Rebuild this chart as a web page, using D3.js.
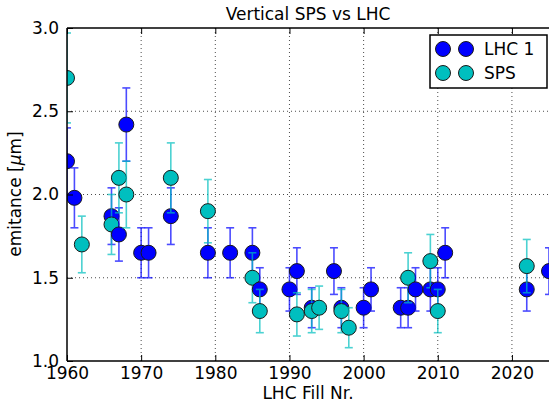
<!DOCTYPE html>
<html><head><meta charset="utf-8">
<script src="https://cdn.jsdelivr.net/npm/d3@7"></script>
<style>body{margin:0;background:#fff}svg{display:block}text{font-family:"DejaVu Sans",sans-serif;fill:#000}</style>
</head><body>
<svg id="c" width="549" height="403"></svg>
<script>
const lhcYear = [1960,1961,1966,1967,1968,1970,1971,1974,1979,1982,1985,1986,1990,1991,1993,1996,1997,2000,2001,2005,2006,2007,2009,2010,2011,2022,2025];
const lhcVal  = [2.20,1.98,1.87,1.76,2.42,1.65,1.65,1.87,1.65,1.65,1.65,1.43,1.43,1.54,1.32,1.54,1.32,1.32,1.43,1.32,1.32,1.43,1.43,1.43,1.65,1.43,1.54];
const lhcErr  = [0.20,0.18,0.17,0.16,0.22,0.15,0.15,0.17,0.15,0.15,0.15,0.13,0.13,0.14,0.12,0.14,0.12,0.12,0.13,0.12,0.12,0.13,0.13,0.13,0.15,0.13,0.14];
const spsYear = [1960,1962,1966,1967,1968,1974,1979,1985,1986,1991,1993,1994,1997,1998,2006,2009,2010,2022];
const spsVal  = [2.70,1.70,1.82,2.10,2.00,2.10,1.90,1.50,1.30,1.28,1.30,1.32,1.30,1.20,1.50,1.60,1.30,1.57];
const spsErr  = [0.27,0.17,0.18,0.21,0.20,0.21,0.19,0.15,0.13,0.13,0.13,0.13,0.13,0.12,0.15,0.16,0.13,0.16];
const xTicks = [1960,1970,1980,1990,2000,2010,2020];
const yTicks = [1.0,1.5,2.0,2.5,3.0];
const seriesNames = ["LHC 1","SPS"];
const seriesColors = ["#0000ff","#00bfbf"];

const L=67,R=549,T=28,B=361;
const svg=d3.select("#c");
const x=d3.scaleLinear().domain([1960,2025]).range([L,R]);
const y=d3.scaleLinear().domain([1.0,3.0]).range([B,T]);
const FS=17;

svg.append("defs").append("clipPath").attr("id","clip").append("rect")
  .attr("x",L).attr("y",T).attr("width",R-L).attr("height",B-T);

// grid
const g=svg.append("g");
g.selectAll(".gx").data(xTicks.slice(1)).join("line")
  .attr("x1",d=>x(d)).attr("x2",d=>x(d)).attr("y1",T).attr("y2",B)
  .attr("stroke","#000").attr("stroke-width",1).attr("stroke-dasharray","1,3").attr("opacity",0.7);
g.selectAll(".gy").data(yTicks.slice(1,-1)).join("line")
  .attr("y1",d=>y(d)).attr("y2",d=>y(d)).attr("x1",L).attr("x2",R)
  .attr("stroke","#000").attr("stroke-width",1).attr("stroke-dasharray","1,3").attr("opacity",0.7);

// points interleaved by year: LHC then SPS
const pts=[];
lhcYear.forEach((yr,i)=>pts.push({s:0,yr,v:lhcVal[i],e:lhcErr[i],o:yr*10}));
spsYear.forEach((yr,i)=>pts.push({s:1,yr,v:spsVal[i],e:spsErr[i],o:yr*10+1}));
pts.sort((a,b)=>a.o-b.o);

const pg=svg.append("g").attr("clip-path","url(#clip)");
pts.forEach(p=>{
  const c=seriesColors[p.s];
  const eg=pg.append("g").attr("stroke",c).attr("stroke-width",1.6).attr("opacity",0.7);
  const cx=x(p.yr);
  eg.append("line").attr("x1",cx).attr("x2",cx).attr("y1",y(p.v-p.e)).attr("y2",y(p.v+p.e));
  [p.v-p.e,p.v+p.e].forEach(v=>eg.append("line").attr("x1",cx-4).attr("x2",cx+4).attr("y1",y(v)).attr("y2",y(v)));
  pg.append("circle").attr("cx",cx).attr("cy",y(p.v)).attr("r",7.5)
    .attr("fill",c).attr("stroke","#1a1a1a").attr("stroke-width",1);
});

// axes
const xAxisB=d3.axisBottom(x).tickValues(xTicks).tickFormat(d3.format("d")).tickSizeInner(-6).tickSizeOuter(0).tickPadding(6);
const ax=svg.append("g").attr("transform",`translate(0,${B})`).call(xAxisB);
ax.select(".domain").remove();
ax.selectAll("line").attr("stroke","#000");
ax.selectAll("text").attr("font-size",FS).attr("font-family","DejaVu Sans");
const xAxisT=d3.axisTop(x).tickValues(xTicks).tickFormat("").tickSizeInner(-6).tickSizeOuter(0);
const axt=svg.append("g").attr("transform",`translate(0,${T})`).call(xAxisT);
axt.select(".domain").remove();
const yAxisL=d3.axisLeft(y).tickValues(yTicks).tickFormat(d3.format(".1f")).tickSizeInner(-6).tickSizeOuter(0).tickPadding(8);
const ay=svg.append("g").attr("transform",`translate(${L},0)`).call(yAxisL);
ay.select(".domain").remove();
ay.selectAll("text").attr("font-size",FS).attr("font-family","DejaVu Sans");

// spines
svg.append("line").attr("x1",L).attr("x2",L).attr("y1",T).attr("y2",B).attr("stroke","#000").attr("stroke-width",1.5);
svg.append("line").attr("x1",L).attr("x2",R).attr("y1",B).attr("y2",B).attr("stroke","#000").attr("stroke-width",1.5);
svg.append("line").attr("x1",L).attr("x2",R).attr("y1",T).attr("y2",T).attr("stroke","#000").attr("stroke-width",1.5);

// labels
svg.append("text").attr("x",(L+R)/2).attr("y",20).attr("text-anchor","middle").attr("font-size",FS).text("Vertical SPS vs LHC");
svg.append("text").attr("x",(L+R)/2).attr("y",399).attr("text-anchor","middle").attr("font-size",FS).text("LHC Fill Nr.");
const yl=svg.append("text").attr("transform","translate(21,194) rotate(-90)").attr("text-anchor","middle").attr("font-size",FS);
yl.append("tspan").text("emitance [");
yl.append("tspan").attr("font-style","italic").text("μ");
yl.append("tspan").text("m]");

// legend
const lg=svg.append("g");
lg.append("rect").attr("x",430).attr("y",35).attr("width",117).attr("height",53).attr("fill","#fff").attr("stroke","#000").attr("stroke-width",1.5);
seriesNames.forEach((n,i)=>{
  const yy=49+i*24;
  [443,466].forEach(xx=>lg.append("circle").attr("cx",xx).attr("cy",yy).attr("r",7.5).attr("fill",seriesColors[i]).attr("stroke","#1a1a1a").attr("stroke-width",1));
  lg.append("text").attr("x",484).attr("y",yy).attr("dy","0.36em").attr("font-size",FS).text(n);
});
</script>
</body></html>
